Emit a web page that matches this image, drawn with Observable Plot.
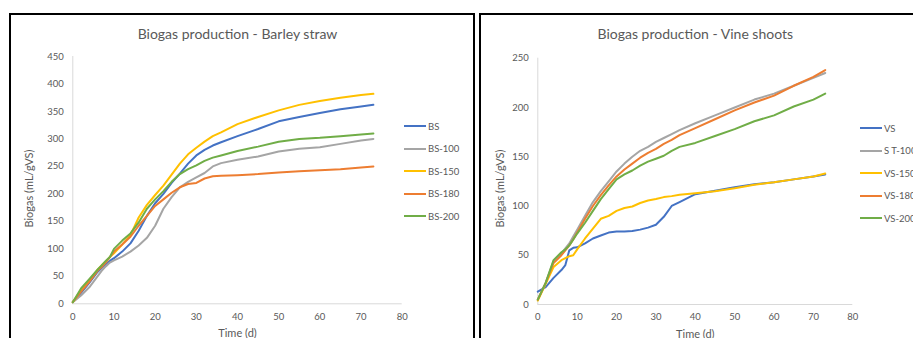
<!DOCTYPE html>
<html><head><meta charset="utf-8">
<script src="https://cdn.jsdelivr.net/npm/d3@7"></script>
<script src="https://cdn.jsdelivr.net/npm/@observablehq/plot@0.6"></script>
<style>
body{margin:0;background:#fff;font-family:Lato,sans-serif;}
#page{position:relative;width:913px;height:338px;overflow:hidden;background:#fff;}
.panel{position:absolute;border:2px solid #000;box-sizing:border-box;}
.chart{position:absolute;left:0;top:0;}
.legend{position:absolute;font:9.5px Lato,sans-serif;color:#595959;white-space:nowrap;width:200px;}
.legend .row{display:flex;align-items:center;height:22.5px;white-space:nowrap;}
.legend .sw{width:22px;height:2px;margin-right:2px;flex:none;}
</style>
</head><body>
<div id="page">
  <div class="panel" style="left:9px;top:13px;width:466px;height:340px;"></div>
  <div class="panel" style="left:479px;top:13px;width:460px;height:340px;"></div>
</div>
<script>
const days = [0,2,4,6,7,8,9,10,12,14,16,18,20,22,24,26,28,30,32,34,36,40,45,50,55,60,65,70,73];

// Barley straw
const bsNames = ["BS","BS-100","BS-150","BS-180","BS-200"];
const BS     = [3,20,38,58,65,72,78,83,95,110,133,160,183,200,220,237,255,270,280,288,294,305,318,332,340,347,354,359,362];
const BS100  = [3,15,30,50,60,68,75,79,86,95,106,120,142,173,194,212,222,230,238,250,256,262,268,277,282,285,291,297,300];
const BS150  = [3,25,42,62,70,77,85,92,108,125,157,180,198,215,235,255,272,284,295,305,312,327,340,352,362,369,375,380,382];
const BS180  = [3,22,40,60,67,75,85,95,108,122,142,160,178,190,202,212,218,220,228,232,233,234,236,239,241,243,245,248,250];
const BS200  = [3,28,45,62,70,78,85,100,115,128,148,173,190,205,222,236,245,252,260,266,270,278,286,295,300,302,305,308,310];

// Vine shoots
const vsNames = ["VS","S T-100","VS-150","VS-180","VS-200"];
const VS     = [13,17.6,27,35,40,55,57.5,58,62,67,70,73,74,74,74.5,76,78,81,89,100,104,112,115.5,119,122,124,127,130,132];
const ST100  = [5,22,44,52,57,62,69,76,90,104,115,125,135,143,150,156,160,165,169,173,177,184,192,200,208,214,222,230,235];
const VS150  = [4,21,38,45,47,49,50,56,67,77,87,90,95,98,99.5,103,105.5,107,109,110,111.5,113,115,118,121.5,124,127,130,133];
const VS180  = [5,22,42,50,55,60,66,73,87,100,111,121,130,137,143,149,154,158,163,167,172,179,188,197,205,212,222,231,238];
const VS200  = [5,22,45,53,56,60,66,72,83,95,107,117,127,132,136,141,145,148,151,156,160,164,171,178,186,192,201,208,214];

const colors = ["#4472C4","#A5A5A5","#FFC000","#ED7D31","#70AD47"];
const xTicks = [0,10,20,30,40,50,60,70,80];
const xLabel = "Time (d)";
const yLabel = "Biogas (mL/gVS)";

function rows(names, series){
  const out = [];
  names.forEach((n,i)=>days.forEach((d,j)=>out.push({name:n, day:d, v:series[i][j]})));
  return out;
}

function makeChart(opts){
  const data = rows(opts.names, opts.series);
  const frameMid = (opts.mt + opts.y0) / 2;
  return Plot.plot({
    width: opts.width, height: 338,
    marginLeft: opts.ml, marginRight: opts.mr, marginTop: opts.mt, marginBottom: 338 - opts.y0,
    style:{background:"transparent", fontFamily:"Lato, sans-serif", fontSize:"9.5px", color:"#595959"},
    x:{domain:[0,80]},
    y:{domain:[0,opts.ymax]},
    color:{domain:opts.names, range:colors},
    marks:[
      Plot.ruleX([0],{stroke:"#D9D9D9", strokeWidth:1}),
      Plot.ruleY([0],{stroke:"#D9D9D9", strokeWidth:1}),
      Plot.axisX({ticks:xTicks, tickSize:0, tickPadding:9, label:null, fontSize:9.5}),
      Plot.axisY({ticks:opts.yTicks, tickSize:0, tickPadding:9, label:null, fontSize:9.5}),
      Plot.line(data,{x:"day", y:"v", z:"name", stroke:"name", strokeWidth:2, curve:"linear"}),
      Plot.text([opts.title],{frameAnchor:"top", dy:-opts.mt+34.5, lineAnchor:"middle", fontSize:14, fill:"#595959", text:d=>d}),
      Plot.text([xLabel],{frameAnchor:"bottom", dy:30, lineAnchor:"middle", fontSize:11, fill:"#595959", text:d=>d}),
      Plot.text([yLabel],{frameAnchor:"left", dx:opts.ylx - opts.ml, dy:188 - frameMid, rotate:-90, textAnchor:"middle", lineAnchor:"middle", fontSize:11, fill:"#595959", text:d=>d})
    ]
  });
}

const page = document.getElementById("page");

function addChart(svg, left){
  const wrap = document.createElement("div");
  wrap.className = "chart";
  wrap.style.left = left + "px";
  wrap.appendChild(svg);
  page.appendChild(wrap);
}
function addLegend(names, left, top){
  const lg = document.createElement("div");
  lg.className = "legend";
  lg.style.left = left + "px";
  lg.style.top = top + "px";
  names.forEach((n,i)=>{
    const r = document.createElement("div"); r.className="row";
    const s = document.createElement("div"); s.className="sw"; s.style.background=colors[i];
    const t = document.createElement("span"); t.textContent = n;
    r.appendChild(s); r.appendChild(t); lg.appendChild(r);
  });
  page.appendChild(lg);
}

addChart(makeChart({
  names:bsNames, series:[BS,BS100,BS150,BS180,BS200],
  width:470, ml:72.3, mr:470-401.7, mt:56, y0:303.3, ymax:450, ylx:29,
  yTicks:[0,50,100,150,200,250,300,350,400,450],
  title:"Biogas production - Barley straw"
}), 0);
addLegend(bsNames, 404, 115);

addChart(makeChart({
  names:vsNames, series:[VS,ST100,VS150,VS180,VS200],
  width:443, ml:537.3-470, mr:443-(852.3-470), mt:57.7, y0:304, ymax:250, ylx:30,
  yTicks:[0,50,100,150,200,250],
  title:"Biogas production - Vine shoots"
}), 470);
addLegend(vsNames, 860, 117);
</script>
</body></html>
